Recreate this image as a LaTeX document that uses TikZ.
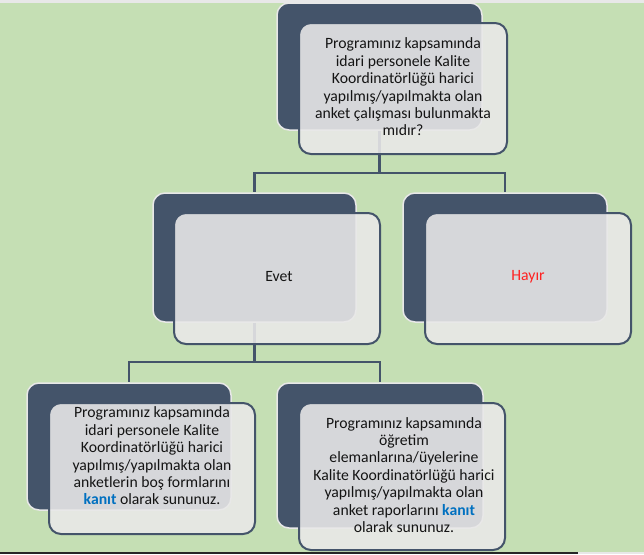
\documentclass[tikz,border=0pt]{standalone}
\usepackage{fontspec}
\setmainfont{Carlito}
\definecolor{bggreen}{HTML}{C5DFB4}
\definecolor{slate}{HTML}{44546A}
\definecolor{backedge}{HTML}{E8E8E8}
\definecolor{frontfill}{HTML}{E9E8E8}
\definecolor{kanitblue}{HTML}{0070C0}
\definecolor{txt}{HTML}{141414}
\definecolor{hayirred}{HTML}{FF2020}
\tikzset{
  backbox/.style={draw=backedge, line width=1.5pt, fill=slate, rounded corners=12pt, inner sep=0pt},
  frontbox/.style={draw=slate, line width=2pt, fill=frontfill, fill opacity=0.89, rounded corners=12pt, inner sep=0pt},
  conn/.style={draw=slate, line width=2.2pt},
  lbl/.style={text=txt, align=center, inner sep=0pt, font=\fontsize{15.7}{17.4}\selectfont}
}
\newcommand{\kanit}{\textcolor{kanitblue}{\textbf{kanıt}}}
\begin{document}
\begin{tikzpicture}[x=1pt,y=-1pt]
\useasboundingbox (0,0) rectangle (644,554);
\fill[bggreen] (0,0) rectangle (644,554);
\fill[backedge] (0,0) rectangle (644,3);
\fill[backedge] (0,551.5) rectangle (644,554);
\fill[black!85] (0,551.5) rectangle (578,554);

% back boxes
\node[backbox, minimum width=205pt, minimum height=127pt] (topB) at (379.5,66.5) {};
\node[backbox, minimum width=203pt, minimum height=129pt] (evetB) at (254.5,257.5) {};
\node[backbox, minimum width=204pt, minimum height=129pt] (hayirB) at (505,257.5) {};
\node[backbox, minimum width=204pt, minimum height=127pt] (blB) at (129,446.5) {};
\node[backbox, minimum width=206pt, minimum height=145pt] (brB) at (380,455.5) {};

% connectors
\coordinate (bar1) at (0,173);
\coordinate (bar2) at (0,362);
\draw[conn] (topB.south) -- (topB.south |- bar1) -| (evetB.north);
\draw[conn] (topB.south |- bar1) -| (hayirB.north);
\draw[conn] (evetB.south) -- (evetB.south |- bar2) -| (blB.north);
\draw[conn] (evetB.south |- bar2) -| (brB.north);

% front boxes
\node[frontbox, minimum width=208pt, minimum height=131pt] (topF) at (403,88.5) {};
\node[frontbox, minimum width=206pt, minimum height=131pt] (evetF) at (277,278.5) {};
\node[frontbox, minimum width=206pt, minimum height=131pt] (hayirF) at (528,278.5) {};
\node[frontbox, minimum width=206pt, minimum height=131pt] (blF) at (152,468.5) {};
\node[frontbox, minimum width=206pt, minimum height=147pt] (brF) at (402,476.5) {};

% texts
\node[lbl] (topT) at (403,87) {Programınız kapsamında\\idari personele Kalite\\Koordinatörlüğü harici\\yapılmış/yapılmakta olan\\anket çalışması bulunmakta\\mıdır?};
\node[lbl] (evetT) at (279,277) {Evet};
\node[lbl, text=hayirred] (hayirT) at (528,277) {Hayır};
\node[lbl] (blT) at (152,456) {Programınız kapsamında\\idari personele Kalite\\Koordinatörlüğü harici\\yapılmış/yapılmakta olan\\anketlerin boş formlarını\\\kanit{} olarak sununuz.};
\node[lbl] (brT) at (404,475) {Programınız kapsamında\\öğretim\\elemanlarına/üyelerine\\Kalite Koordinatörlüğü harici\\yapılmış/yapılmakta olan\\anket raporlarını \kanit\\olarak sununuz.};
\end{tikzpicture}
\end{document}
